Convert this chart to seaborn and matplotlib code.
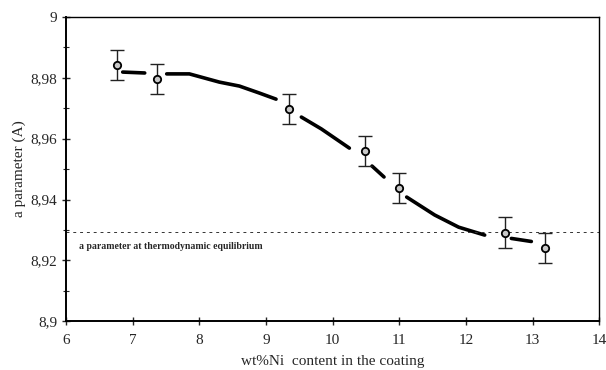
import numpy as np
import pandas as pd
import matplotlib
matplotlib.use('Agg')
import matplotlib.pyplot as plt
import matplotlib.ticker as mticker
import seaborn as sns

# 측정값 (wt%Ni, a parameter, 오차)
ni_content = [6.76, 7.37, 9.35, 10.48, 11.0, 12.59, 13.19]
a_param = [8.9842, 8.9796, 8.9697, 8.9559, 8.9438, 8.9291, 8.9240]
a_err = [0.005, 0.005, 0.005, 0.005, 0.005, 0.005, 0.005]

# 손으로 그린 추세선 (구간별)
trend_seg = [1, 1, 2, 2, 2, 2, 2, 2, 3, 3, 3, 4, 4, 5, 5, 5, 5, 6, 6]
trend_x = [6.85, 7.18, 7.51, 7.85, 8.30, 8.60, 8.90, 9.15, 9.53, 9.83, 10.25,
           10.59, 10.77, 11.11, 11.53, 11.89, 12.28, 12.68, 12.98]
trend_y = [8.9819, 8.9816, 8.9813, 8.9813, 8.9786, 8.9773, 8.9750, 8.9730,
           8.9671, 8.9632, 8.9569, 8.9510, 8.9474, 8.9408, 8.9349, 8.9309,
           8.9283, 8.9272, 8.9262]

equilibrium = 8.9293

sns.set_style('white')
plt.rcParams['font.family'] = ['Liberation Serif', 'DejaVu Serif']

fig = plt.figure(figsize=(6.06, 3.70), dpi=100)
ax = fig.add_axes([0.109, 0.132, 0.880, 0.822])

trend = pd.DataFrame({'x': trend_x, 'y': trend_y, 'seg': trend_seg})
sns.lineplot(data=trend, x='x', y='y', units='seg', estimator=None,
             color='black', linewidth=2.6, ax=ax, legend=False)

ax.axhline(equilibrium, color='#333333', linestyle=(0, (3, 4)), linewidth=0.7)
ax.text(6.2, 8.9247, 'a parameter at thermodynamic equilibrium',
        fontsize=7, fontweight='bold', va='center', ha='left')

ax.errorbar(ni_content, a_param, yerr=a_err, fmt='none', ecolor='#222222',
            elinewidth=1.0, capsize=5, capthick=1.0, zorder=3)
pts = pd.DataFrame({'x': ni_content, 'y': a_param})
sns.scatterplot(data=pts, x='x', y='y', s=28, color='#c8c8c8',
                edgecolor='black', linewidth=1.3, ax=ax, zorder=4)

ax.set_xlim(6, 14)
ax.set_ylim(8.9, 9.0)
ax.set_xticks(range(6, 15))
ax.set_yticks([8.9, 8.92, 8.94, 8.96, 8.98, 9.0])
ax.set_yticklabels(['8,9', '8,92', '8,94', '8,96', '8,98', '9'])
ax.yaxis.set_minor_locator(mticker.MultipleLocator(0.01))
ax.tick_params(axis='both', which='major', direction='inout', length=6,
               width=1, labelsize=11, left=True, bottom=True)
ax.tick_params(axis='x', which='major', pad=6)
ax.tick_params(axis='y', which='minor', direction='inout', length=4,
               width=0.8, left=True)

for side in ['left', 'bottom', 'top', 'right']:
    ax.spines[side].set_visible(True)
    ax.spines[side].set_color('black')
ax.spines['left'].set_linewidth(1.4)
ax.spines['bottom'].set_linewidth(1.4)
ax.spines['top'].set_linewidth(1.0)
ax.spines['right'].set_linewidth(1.0)

ax.set_xlabel('wt%Ni  content in the coating', fontsize=11, labelpad=6)
ax.set_ylabel('a parameter (A)', fontsize=11, labelpad=3)

plt.savefig('out.png', dpi=100)
plt.close()
